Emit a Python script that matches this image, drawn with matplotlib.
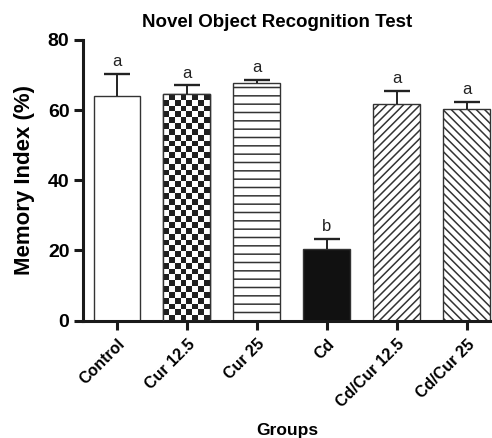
import numpy as np
import matplotlib
matplotlib.use("Agg")
import matplotlib.pyplot as plt
from matplotlib.transforms import ScaledTranslation

# ====== DATA ======
groups = ["Control", "Cur 12.5", "Cur 25", "Cd", "Cd/Cur 12.5", "Cd/Cur 25"]
memory_index = [64.0, 64.5, 67.7, 20.3, 61.6, 60.4]
sem = [6.3, 2.5, 1.0, 2.9, 3.9, 1.8]
letters = ["a", "a", "a", "b", "a", "a"]
# ==================

plt.rcParams["font.family"] = ["Liberation Sans", "DejaVu Sans"]
plt.rcParams["hatch.linewidth"] = 1.1
plt.rcParams["hatch.color"] = "#333333"

fills = ["white", "white", "white", "#111111", "white", "white"]
hatches = [None, None, "--", None, "////", "\\\\\\\\"]
edge = "#333333"
bar_w = 0.67

fig = plt.figure(figsize=(4.92, 4.38), dpi=100)
ax = fig.add_axes([0.168, 0.268, 0.832, 0.641])

x = np.arange(len(groups))
bars = ax.bar(x, memory_index, width=bar_w, color=fills, edgecolor=edge,
              linewidth=1.0, zorder=2)
for b, h in zip(bars, hatches):
    if h:
        b.set_hatch(h)

# checkerboard fill for Cur 12.5
cb = bars[1]
n_cols = 8
sq_y = 1.65
n_rows = int(round(cb.get_height() / sq_y))
ii, jj = np.indices((n_rows, n_cols))
pattern = (ii + jj) % 2
img = ax.imshow(pattern, cmap="gray_r", vmin=0, vmax=1.15,
                extent=(cb.get_x(), cb.get_x() + cb.get_width(), 0, cb.get_height()),
                interpolation="nearest", aspect="auto", zorder=2.5)
img.set_clip_path(cb)
ax.bar(x[1], memory_index[1], width=bar_w, color="none", edgecolor=edge,
       linewidth=1.0, zorder=3)

# one-sided error bars (upper only, cap on top)
tops = np.array(memory_index) + np.array(sem)
ax.vlines(x, memory_index, tops, colors="#222222", linewidth=1.4, zorder=4)
ax.plot(x, tops, ls="none", marker="_", markersize=19, markeredgewidth=1.7,
        color="#222222", zorder=4)

for xi, t, l in zip(x, tops, letters):
    ax.annotate(l, (xi, t), xytext=(0, 3.5), textcoords="offset points",
                ha="center", va="bottom", fontsize=12, color="#222222")

ax.set_xlim(-0.49, 5.36)
ax.set_ylim(0, 80)
ax.set_yticks([0, 20, 40, 60, 80])
ax.set_xticks(x)
ax.set_xticklabels(groups, rotation=45, ha="right", rotation_mode="anchor",
                   fontsize=11.5, fontweight="bold")
shift = ScaledTranslation(7 / 72, 0, fig.dpi_scale_trans)
for t in ax.get_xticklabels():
    t.set_transform(t.get_transform() + shift)
for t in ax.get_yticklabels():
    t.set_fontsize(14)
    t.set_fontweight("bold")

for side in ["top", "right"]:
    ax.spines[side].set_visible(False)
for side in ["left", "bottom"]:
    ax.spines[side].set_linewidth(2.2)
    ax.spines[side].set_color("#1a1a1a")
ax.tick_params(axis="both", width=2.2, length=6.5, color="#1a1a1a", pad=3)
ax.tick_params(axis="x", pad=5)

ax.set_ylabel("Memory Index (%)", fontsize=16, fontweight="bold", labelpad=9)
ax.set_xlabel("Groups", fontsize=12.5, fontweight="bold", labelpad=9)
ax.set_title("Novel Object Recognition Test", fontsize=13.5, fontweight="bold",
             pad=9, x=0.475)

fig.savefig("out.png", dpi=100)
